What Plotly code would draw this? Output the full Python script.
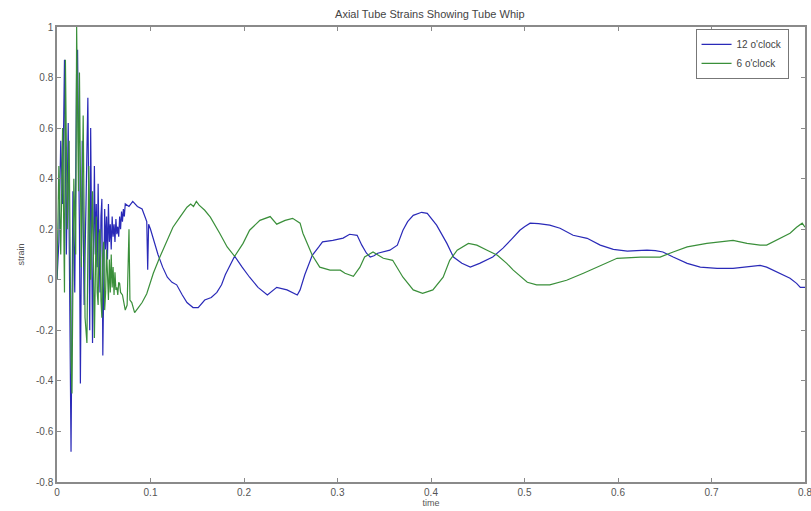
import plotly.graph_objects as go

# ---------------- data ----------------
# 12 o'clock – noisy start
t_12_early = [0.000, 0.002, 0.004, 0.006, 0.008, 0.010, 0.012, 0.014, 0.015, 0.017,
              0.019, 0.021, 0.022, 0.024, 0.025, 0.027, 0.029, 0.031, 0.033, 0.035,
              0.036, 0.038, 0.040, 0.041, 0.042, 0.043, 0.044, 0.045, 0.046, 0.047,
              0.048, 0.049, 0.050, 0.051, 0.052, 0.053, 0.054, 0.055, 0.056, 0.057,
              0.058, 0.059, 0.060, 0.061, 0.062, 0.063, 0.064, 0.065, 0.066, 0.067,
              0.068, 0.069, 0.070, 0.071, 0.072, 0.073]
strain_12_early = [0.00, 0.15, 0.55, 0.30, 0.87, 0.10, 0.62, -0.40, -0.68, 0.35,
                   -0.05, 0.85, 0.91, 0.20, -0.41, 0.55, -0.10, 0.30, 0.72, -0.20,
                   0.60, -0.25, 0.45, 0.10, 0.30, 0.05, 0.38, 0.12, -0.05, 0.25,
                   0.32, -0.30, 0.10, 0.28, 0.12, 0.25, 0.08, 0.30, 0.15, 0.22,
                   0.12, 0.25, 0.17, 0.22, 0.15, 0.24, 0.18, 0.21, 0.17, 0.25,
                   0.20, 0.27, 0.23, 0.28, 0.25, 0.30]
# 12 o'clock – slow whip
t_12_late = [0.077, 0.081, 0.086, 0.091, 0.094, 0.096, 0.097, 0.098, 0.100,
             0.104, 0.108, 0.113, 0.118, 0.123, 0.128, 0.134, 0.139, 0.1455, 0.151,
             0.158, 0.165, 0.171, 0.176, 0.180, 0.185, 0.190, 0.198, 0.206, 0.215,
             0.225, 0.235, 0.246, 0.257, 0.260, 0.265, 0.273, 0.280, 0.284, 0.295,
             0.306, 0.313, 0.321, 0.326, 0.331, 0.335, 0.339, 0.343, 0.356, 0.364,
             0.370, 0.375, 0.381, 0.390, 0.396, 0.406, 0.417, 0.424, 0.433, 0.442,
             0.452, 0.466, 0.477, 0.486, 0.495, 0.500, 0.506, 0.515, 0.527, 0.538,
             0.545, 0.552, 0.567, 0.581, 0.595, 0.610, 0.620, 0.631, 0.640, 0.648,
             0.659, 0.674, 0.688, 0.706, 0.723, 0.738, 0.752, 0.759, 0.773, 0.784,
             0.791, 0.795, 0.800]
strain_12_late = [0.29, 0.31, 0.29, 0.28, 0.25, 0.23, 0.04, 0.22, 0.20,
                  0.15, 0.10, 0.05, 0.01, -0.01, -0.02, -0.06, -0.09, -0.11, -0.11,
                  -0.08, -0.07, -0.05, -0.02, 0.02, 0.06, 0.093, 0.05, 0.01, -0.03,
                  -0.06, -0.03, -0.04, -0.06, -0.04, 0.02, 0.097, 0.13, 0.15, 0.156,
                  0.165, 0.18, 0.176, 0.137, 0.105, 0.09, 0.095, 0.105, 0.117, 0.137,
                  0.196, 0.23, 0.255, 0.267, 0.263, 0.216, 0.144, 0.09, 0.065, 0.05,
                  0.065, 0.09, 0.125, 0.16, 0.196, 0.21, 0.224, 0.222, 0.216, 0.204,
                  0.19, 0.176, 0.164, 0.137, 0.12, 0.113, 0.115, 0.117, 0.115, 0.11,
                  0.09, 0.065, 0.05, 0.045, 0.045, 0.05, 0.057, 0.05, 0.026, 0.006,
                  -0.014, -0.03, -0.03]

# 6 o'clock – noisy start
t_6_early = [0.000, 0.002, 0.004, 0.006, 0.008, 0.009, 0.011, 0.013, 0.015, 0.016,
             0.018, 0.020, 0.021, 0.023, 0.024, 0.026, 0.028, 0.030, 0.032, 0.034,
             0.036, 0.038, 0.040, 0.041, 0.042, 0.043, 0.044, 0.045, 0.046, 0.047,
             0.048, 0.049, 0.050, 0.051, 0.052, 0.053, 0.054, 0.055, 0.056, 0.057,
             0.058, 0.059, 0.060, 0.061, 0.062, 0.063, 0.064, 0.065, 0.066, 0.067,
             0.068, 0.070]
strain_6_early = [0.00, 0.45, 0.10, 0.60, -0.05, 0.87, 0.20, 0.55, -0.30, -0.45,
                  0.40, 0.10, 1.00, 0.35, 0.82, 0.05, 0.65, -0.15, -0.25, 0.45,
                  0.00, 0.35, -0.23, 0.15, 0.25, -0.05, -0.10, 0.18, 0.20, -0.08,
                  -0.15, 0.10, 0.15, -0.12, -0.05, 0.12, 0.02, -0.08, 0.08, -0.05,
                  0.10, -0.03, 0.05, -0.06, 0.03, -0.04, -0.03, -0.06, -0.01, -0.015,
                  -0.05, -0.06]
# 6 o'clock – slow whip
t_6_late = [0.073, 0.075, 0.077, 0.078, 0.080, 0.083, 0.087, 0.091, 0.096, 0.103,
            0.110, 0.118, 0.124, 0.1315, 0.139, 0.143, 0.146, 0.149, 0.152, 0.158,
            0.164, 0.174, 0.182, 0.190, 0.199, 0.206, 0.217, 0.228, 0.235, 0.244,
            0.252, 0.260, 0.263, 0.273, 0.281, 0.292, 0.303, 0.308, 0.317, 0.324,
            0.329, 0.338, 0.349, 0.359, 0.370, 0.381, 0.391, 0.402, 0.413, 0.420,
            0.428, 0.440, 0.449, 0.460, 0.471, 0.481, 0.488, 0.503, 0.513, 0.527,
            0.545, 0.563, 0.581, 0.599, 0.624, 0.645, 0.659, 0.674, 0.695, 0.723,
            0.738, 0.752, 0.759, 0.773, 0.784, 0.791, 0.797, 0.800]
strain_6_late = [-0.12, -0.10, 0.20, -0.08, -0.09, -0.13, -0.11, -0.09, -0.055, 0.026,
                 0.09, 0.156, 0.208, 0.248, 0.287, 0.30, 0.29, 0.31, 0.295, 0.275,
                 0.248, 0.184, 0.13, 0.093, 0.144, 0.196, 0.235, 0.25, 0.22, 0.235,
                 0.243, 0.224, 0.184, 0.097, 0.05, 0.038, 0.038, 0.026, 0.014, 0.05,
                 0.09, 0.11, 0.085, 0.077, 0.01, -0.04, -0.054, -0.04, 0.01, 0.077,
                 0.117, 0.144, 0.137, 0.117, 0.097, 0.065, 0.038, -0.01, -0.02, -0.02,
                 -0.002, 0.026, 0.057, 0.085, 0.09, 0.09, 0.11, 0.13, 0.144, 0.156,
                 0.144, 0.137, 0.137, 0.164, 0.184, 0.208, 0.224, 0.208]

series_names = ["12 o'clock", "6 o'clock"]
x_ticks = [0, 0.1, 0.2, 0.3, 0.4, 0.5, 0.6, 0.7, 0.8]
x_tick_text = ["0", "0.1", "0.2", "0.3", "0.4", "0.5", "0.6", "0.7", "0.8"]
y_ticks = [-0.8, -0.6, -0.4, -0.2, 0, 0.2, 0.4, 0.6, 0.8, 1]
y_tick_text = ["-0.8", "-0.6", "-0.4", "-0.2", "0", "0.2", "0.4", "0.6", "0.8", "1"]

assert len(t_12_early) == len(strain_12_early)
assert len(t_12_late) == len(strain_12_late)
assert len(t_6_early) == len(strain_6_early)
assert len(t_6_late) == len(strain_6_late)

t_12 = t_12_early + t_12_late
strain_12 = strain_12_early + strain_12_late
t_6 = t_6_early + t_6_late
strain_6 = strain_6_early + strain_6_late

# ---------------- figure ----------------
FONT = "Liberation Sans, Arial, sans-serif"
AXIS_COL = "#8a8a8a"
TEXT_COL = "#555555"

fig = go.Figure()
fig.add_trace(go.Scatter(x=t_12, y=strain_12, mode="lines", name=series_names[0],
                         line=dict(color="#2a2ab8", width=1.2)))
fig.add_trace(go.Scatter(x=t_6, y=strain_6, mode="lines", name=series_names[1],
                         line=dict(color="#3a8f3a", width=1.2)))

axis_common = dict(showline=True, linecolor=AXIS_COL, linewidth=1.5, mirror="ticks",
                   ticks="inside", ticklen=4, tickcolor=AXIS_COL, tickwidth=1,
                   showgrid=False, zeroline=False, automargin=False,
                   ticklabeloverflow="allow",
                   tickfont=dict(family=FONT, size=10, color=TEXT_COL))

fig.update_layout(
    width=811, height=511,
    margin=dict(l=57, r=6, t=27, b=29),
    paper_bgcolor="white", plot_bgcolor="white",
    title=dict(text="Axial Tube Strains Showing Tube Whip", x=0.53, xanchor="center",
               y=0.972, yanchor="middle",
               font=dict(family=FONT, size=11, color="#444444")),
    xaxis=dict(range=[0, 0.8], tickvals=x_ticks, ticktext=x_tick_text,
               title=dict(text="time", font=dict(family=FONT, size=9, color=TEXT_COL), standoff=3),
               **axis_common),
    yaxis=dict(range=[-0.8, 1], tickvals=y_ticks, ticktext=y_tick_text,
               title=dict(text="strain", font=dict(family=FONT, size=9, color=TEXT_COL), standoff=10),
               **axis_common),
    legend=dict(x=0.978, y=0.996, xanchor="right", yanchor="top",
                bgcolor="white", bordercolor="#777777", borderwidth=1,
                font=dict(family=FONT, size=10, color="#444444"),
                tracegroupgap=0, itemwidth=30),
    showlegend=True,
)

fig.write_html("out.html", post_script="document.body.style.margin='0';",
               config={"displayModeBar": False})
